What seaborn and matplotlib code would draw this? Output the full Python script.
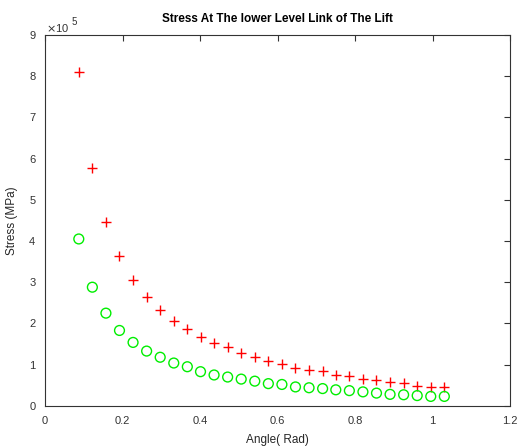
import numpy as np
import matplotlib
matplotlib.use("Agg")
import matplotlib.pyplot as plt
import seaborn as sns
import pandas as pd

# Angle (rad), 5 to 59 deg
angle = [0.087, 0.122, 0.157, 0.192, 0.227, 0.262, 0.297, 0.332, 0.367, 0.401,
         0.436, 0.471, 0.506, 0.541, 0.576, 0.611, 0.646, 0.681, 0.716, 0.750,
         0.785, 0.820, 0.855, 0.890, 0.925, 0.960, 0.995, 1.030]

# Stress (MPa)
stress_red = [8.10, 5.77, 4.47, 3.64, 3.05, 2.64, 2.33, 2.07, 1.86, 1.67,
              1.52, 1.42, 1.28, 1.18, 1.09, 1.01, 0.93, 0.87, 0.84, 0.75,
              0.73, 0.66, 0.62, 0.58, 0.56, 0.49, 0.47, 0.45]
stress_green = [4.05, 2.88, 2.25, 1.83, 1.54, 1.33, 1.18, 1.04, 0.95, 0.83,
                0.75, 0.70, 0.65, 0.60, 0.54, 0.52, 0.46, 0.44, 0.42, 0.39,
                0.37, 0.34, 0.31, 0.28, 0.27, 0.25, 0.23, 0.23]

df_red = pd.DataFrame({"angle": angle, "stress": np.array(stress_red) * 1e5})
df_green = pd.DataFrame({"angle": angle, "stress": np.array(stress_green) * 1e5})

sns.set_style("white")
plt.rcParams['font.family'] = ['Liberation Sans', 'DejaVu Sans']

fig = plt.figure(figsize=(5.18, 4.48), dpi=100)
ax = fig.add_axes([0.087, 0.094, 0.898, 0.828])

sns.scatterplot(data=df_red, x="angle", y="stress", ax=ax, marker="+",
                color="#ff0000", s=55, linewidth=1.0)
sns.scatterplot(data=df_green, x="angle", y="stress", ax=ax, marker="o",
                facecolor="none", edgecolor="#00ee00", s=50, linewidth=1.0)

ax.set_xlim(0, 1.2)
ax.set_ylim(0, 9e5)
ax.set_xticks(np.arange(0, 1.21, 0.2))
ax.set_xticklabels(["0", "0.2", "0.4", "0.6", "0.8", "1", "1.2"])
ax.set_yticks(np.arange(0, 9.1e5, 1e5))
ax.set_yticklabels([str(i) for i in range(10)])
ax.tick_params(direction="in", length=4, top=True, right=True, labelsize=8,
               colors="#333333", width=0.8)
ax.tick_params(axis="x", pad=7)
ax.tick_params(axis="y", pad=7)
for sp in ax.spines.values():
    sp.set_color("#333333")
    sp.set_linewidth(0.8)

ax.text(0.003, 1.003, r"$\times$10", transform=ax.transAxes, fontsize=8,
        ha="left", va="bottom", color="#333333")
ax.text(0.058, 1.022, "5", transform=ax.transAxes, fontsize=7,
        ha="left", va="bottom", color="#333333")

ax.set_title("Stress At The lower Level Link of The Lift", fontsize=8.5,
             fontweight="bold", pad=9, color="black")
ax.set_xlabel("Angle( Rad)", fontsize=8.5, labelpad=6, color="#262626")
ax.set_ylabel("Stress (MPa)", fontsize=8.5, labelpad=8, color="#262626")

fig.savefig("out.png", dpi=100)
